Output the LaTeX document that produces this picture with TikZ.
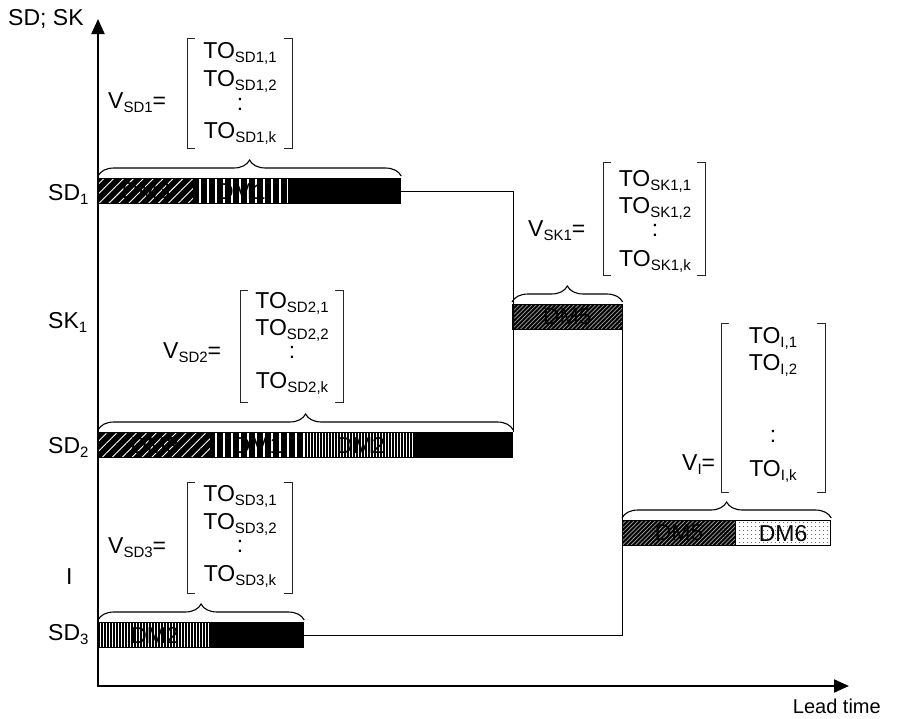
\documentclass[tikz,border=0pt]{standalone}
\usepackage{fontspec}
\setmainfont{Liberation Sans}
\usetikzlibrary{arrows.meta,patterns.meta,decorations.pathreplacing}
\newcommand\mysub[1]{\raisebox{-4pt}{\fontsize{15}{15}\selectfont #1}}
\begin{document}
\begin{tikzpicture}[x=1pt,y=-1pt,
  font=\fontsize{23}{27}\selectfont,
  lbl/.style={inner sep=0pt,anchor=base west},
  ent/.style={inner sep=0pt,anchor=base},
  seg/.style={draw=black,line width=1.2pt,minimum height=25pt,inner sep=0pt,anchor=north west},
  hatchA/.style={seg,preaction={fill=black},pattern={Lines[angle=45,distance=7pt,line width=0.9pt]},pattern color=white},
  vertA/.style={seg,preaction={fill=black},pattern={Lines[angle=90,distance=8pt,line width=1.6pt]},pattern color=white},
  vertB/.style={seg,preaction={fill=white},pattern={Lines[angle=90,distance=3pt,line width=1.5pt]},pattern color=black},
  blk/.style={seg,fill=black},
  hatchB/.style={seg,preaction={fill=black},pattern={Lines[angle=45,distance=3pt,line width=0.7pt]},pattern color=gray!70},
  dots/.style={seg,preaction={fill=white},pattern={Dots[distance=4pt,radius=0.5pt]},pattern color=black},
  brc/.style={decorate,decoration={brace,amplitude=16pt},line width=1.1pt},
  conn/.style={line width=1pt},
  axis/.style={line width=2pt,-{Triangle[length=15pt,width=13pt]}},
  bkt/.style={line width=0.9pt,draw=black!85}
]
\useasboundingbox (0,0) rectangle (897,718);

% axes
\coordinate (O) at (98,686);
\coordinate (ytop) at (98,19);
\coordinate (xend) at (849,686);
\draw[axis] (O) -- (ytop);
\draw[axis] ([xshift=-1pt]O) -- (xend);
\node[lbl] (ylab) at (8,25) {SD; SK};
\node[inner sep=0pt,anchor=base east,font=\fontsize{20}{24}\selectfont] (xlab) at (881,713) {Lead time};

% row labels
\node[lbl] (rSD1) at (48,200) {SD\mysub{1}};
\node[lbl] (rSK1) at (48,328) {SK\mysub{1}};
\node[lbl] (rSD2) at (48,453) {SD\mysub{2}};
\node[lbl] (rI) at (66,584) {I};
\node[lbl] (rSD3) at (48,640) {SD\mysub{3}};

% SD1 bar
\node[hatchA,minimum width=95pt] (sd1a) at (98,178) {DM3};
\node[vertA,minimum width=95pt] (sd1b) at (193,178) {DM1};
\node[blk,minimum width=112pt] (sd1c) at (288,178) {};
% SD2 bar
\node[hatchA,minimum width=112pt] (sd2a) at (98,432) {DM3};
\node[vertA,minimum width=95pt] (sd2b) at (210,432) {DM1};
\node[vertB,minimum width=110pt] (sd2c) at (305,432) {DM2};
\node[blk,minimum width=97pt] (sd2d) at (415,432) {};
% SD3 bar
\node[vertB,minimum width=112pt] (sd3a) at (98,622) {DM2};
\node[blk,minimum width=93pt] (sd3b) at (210,622) {};
% SK1 bar
\node[hatchB,minimum width=110pt] (sk1) at (512,304) {DM5};
% I bar
\node[hatchB,minimum width=113pt] (ia) at (622,520) {DM5};
\node[dots,minimum width=95pt] (ib) at (735,520) {DM6};

% connectors
\draw[conn] (sd1c.east) -| (sd2d.north east);
\draw[conn] (sd3b.east) -| (sk1.south east);

% braces
\draw[brc] ([yshift=2pt]sd1a.north west) -- ([yshift=2pt]sd1c.north east);
\draw[brc] ([yshift=2pt]sd2a.north west) -- ([yshift=2pt]sd2d.north east);
\draw[brc] ([yshift=2pt]sd3a.north west) -- ([yshift=2pt]sd3b.north east);
\draw[brc] ([yshift=2pt]sk1.north west) -- ([yshift=2pt]sk1.north east);
\draw[brc] ([yshift=2pt]ia.north west) -- ([yshift=2pt]ib.north east);

% matrix SD1
\node[lbl] (vsd1) at (108,108) {V\mysub{SD1}=};
\draw[bkt] (195,38) -- (187,38) -- (187,148) -- (195,148);
\draw[bkt] (284,38) -- (292,38) -- (292,148) -- (284,148);
\node[ent] (m11) at (240,58) {TO\mysub{SD1,1}};
\node[ent] (m12) at (240,86) {TO\mysub{SD1,2}};
\node[ent] (m13) at (240,110) {:};
\node[ent] (m14) at (240,138) {TO\mysub{SD1,k}};

% matrix SK1
\node[lbl] (vsk1) at (528,236) {V\mysub{SK1}=};
\draw[bkt] (611,162) -- (603,162) -- (603,275) -- (611,275);
\draw[bkt] (697,162) -- (705,162) -- (705,275) -- (697,275);
\node[ent] (k11) at (655,186) {TO\mysub{SK1,1}};
\node[ent] (k12) at (655,213) {TO\mysub{SK1,2}};
\node[ent] (k13) at (655,236) {:};
\node[ent] (k14) at (655,266) {TO\mysub{SK1,k}};

% matrix SD2
\node[lbl] (vsd2) at (163,358) {V\mysub{SD2}=};
\draw[bkt] (248,290) -- (240,290) -- (240,402) -- (248,402);
\draw[bkt] (335,290) -- (343,290) -- (343,402) -- (335,402);
\node[ent] (m21) at (292,308) {TO\mysub{SD2,1}};
\node[ent] (m22) at (292,335) {TO\mysub{SD2,2}};
\node[ent] (m23) at (292,358) {:};
\node[ent] (m24) at (292,388) {TO\mysub{SD2,k}};

% matrix SD3
\node[lbl] (vsd3) at (108,553) {V\mysub{SD3}=};
\draw[bkt] (195,482) -- (187,482) -- (187,593) -- (195,593);
\draw[bkt] (284,482) -- (292,482) -- (292,593) -- (284,593);
\node[ent] (m31) at (240,501) {TO\mysub{SD3,1}};
\node[ent] (m32) at (240,529) {TO\mysub{SD3,2}};
\node[ent] (m33) at (240,552) {:};
\node[ent] (m34) at (240,581) {TO\mysub{SD3,k}};

% matrix I
\node[lbl] (vi) at (682,470) {V\mysub{I}=};
\draw[bkt] (729,323) -- (721,323) -- (721,492) -- (729,492);
\draw[bkt] (817,323) -- (825,323) -- (825,492) -- (817,492);
\node[ent] (i1) at (773,343) {TO\mysub{I,1}};
\node[ent] (i2) at (773,370) {TO\mysub{I,2}};
\node[ent] (i3) at (773,442) {:};
\node[ent] (i4) at (773,476) {TO\mysub{I,k}};
\end{tikzpicture}
\end{document}
